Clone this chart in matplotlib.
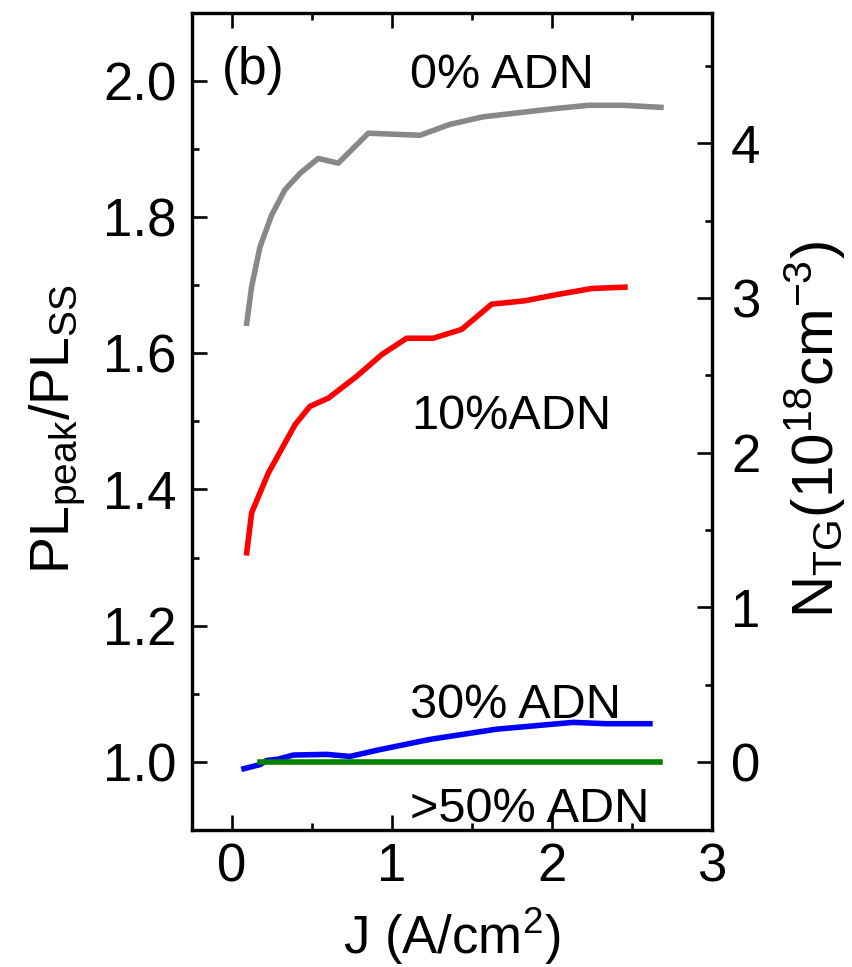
import matplotlib
matplotlib.use("Agg")
import matplotlib.pyplot as plt
from matplotlib import font_manager
from matplotlib.ticker import MultipleLocator

# PL_peak / PL_SS against current density for each ADN fraction
j_0 = [0.094, 0.125, 0.177, 0.250, 0.333, 0.427, 0.541, 0.666, 0.854, 1.177,
       1.364, 1.570, 1.754, 2.013, 2.229, 2.446, 2.683]
pl_0 = [1.644, 1.698, 1.756, 1.803, 1.840, 1.864, 1.886, 1.879, 1.923, 1.920,
        1.936, 1.947, 1.952, 1.959, 1.964, 1.964, 1.961]

j_10 = [0.094, 0.125, 0.229, 0.396, 0.489, 0.604, 0.781, 0.938, 1.094, 1.260,
        1.438, 1.625, 1.833, 2.031, 2.250, 2.458]
pl_10 = [1.307, 1.366, 1.424, 1.495, 1.522, 1.534, 1.566, 1.598, 1.622, 1.622,
         1.635, 1.672, 1.677, 1.686, 1.695, 1.697]

j_30 = [0.077, 0.177, 0.219, 0.291, 0.385, 0.594, 0.739, 0.927, 1.239, 1.656,
        2.135, 2.344, 2.614]
pl_30 = [0.990, 0.996, 1.002, 1.004, 1.010, 1.011, 1.008, 1.018, 1.033, 1.048,
         1.058, 1.056, 1.056]

j_50 = [0.177, 2.677]
pl_50 = [1.0, 1.0]

names = {f.name for f in font_manager.fontManager.ttflist}
base = "Liberation Sans"
narrow = "Liberation Sans Narrow" if "Liberation Sans Narrow" in names else base

plt.rcParams["font.family"] = [base, "DejaVu Sans"]
plt.rcParams["mathtext.fontset"] = "custom"
plt.rcParams["mathtext.rm"] = narrow
plt.rcParams["mathtext.it"] = narrow + ":italic"
plt.rcParams["mathtext.default"] = "rm"

fig = plt.figure(figsize=(8.53, 9.67), dpi=100)
ax = fig.add_axes([0.2247, 0.1417, 0.6096, 0.8452])

lw = 4.0
ax.plot(j_0, pl_0, color="#888888", lw=lw)
ax.plot(j_10, pl_10, color="#ff0000", lw=lw)
ax.plot(j_30, pl_30, color="#0000ff", lw=lw)
ax.plot(j_50, pl_50, color="#008000", lw=lw)

ax.set_xlim(-0.25, 3.0)
ax.set_ylim(0.9, 2.1)
ax.xaxis.set_major_locator(MultipleLocator(1))
ax.xaxis.set_minor_locator(MultipleLocator(0.5))
ax.yaxis.set_major_locator(MultipleLocator(0.2))
ax.yaxis.set_minor_locator(MultipleLocator(0.1))
ax.yaxis.set_major_formatter(matplotlib.ticker.FormatStrFormatter("%.1f"))

for s in ax.spines.values():
    s.set_linewidth(2.3)
ax.tick_params(which="both", direction="in", top=True, right=False, width=1.9)
ax.tick_params(which="major", length=10.5, labelsize=38)
ax.tick_params(which="minor", length=5)
ax.tick_params(axis="x", which="major", pad=9)
ax.tick_params(axis="y", which="major", pad=11)

# right-hand scale for trap density
ax2 = ax.twinx()
ax2.set_ylim(-0.44, 4.846)
ax2.yaxis.set_major_locator(MultipleLocator(1))
ax2.yaxis.set_minor_locator(MultipleLocator(0.5))
ax2.tick_params(which="both", direction="in", width=1.9)
ax2.tick_params(which="major", length=10.5, labelsize=38, pad=14)
ax2.tick_params(which="minor", length=5)
for s in ax2.spines.values():
    s.set_linewidth(2.3)

ax.set_xlabel("J (A/cm$^2$)", fontsize=38, family=narrow)
ax.set_ylabel("PL$_{peak}$/PL$_{SS}$", fontsize=40, family=narrow)
ax2.set_ylabel("N$_{TG}$(10$^{18}$cm$^{-3}$)", fontsize=42, family=narrow)
ax.xaxis.set_label_coords(0.5, -0.093)
ax.yaxis.set_label_coords(-0.2, 0.49)
ax2.yaxis.set_label_coords(1.135, 0.49)

tkw = dict(fontsize=35, family=narrow, ha="left", va="baseline")
ax.text(-0.0625, 1.996, "(b)", **{**tkw, "fontsize": 37})
ax.text(1.116, 1.989, "0% ADN", **tkw)
ax.text(1.125, 1.488, "10%ADN", **tkw)
ax.text(1.116, 1.065, "30% ADN", **tkw)
ax.text(1.116, 0.911, ">50% ADN", **tkw)

fig.savefig("out.png", dpi=100)
